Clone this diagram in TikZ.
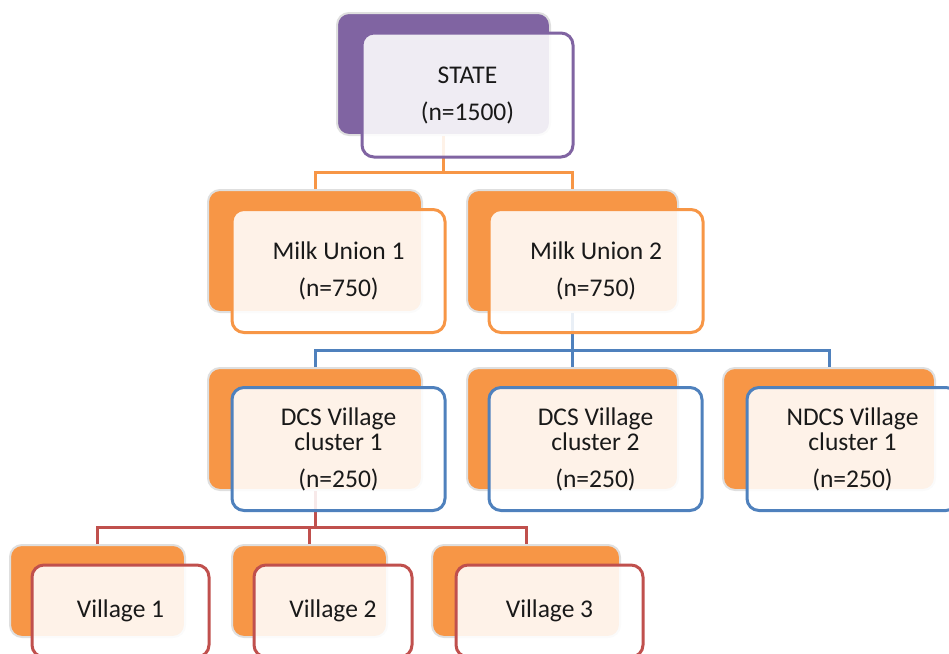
\documentclass[tikz,border=0pt]{standalone}
\usepackage{fontspec}
\setmainfont{Carlito}
\definecolor{purpleA}{HTML}{8064A2}
\definecolor{orangeA}{HTML}{F79646}
\definecolor{blueA}{HTML}{4F81BD}
\definecolor{redA}{HTML}{C0504D}
\newcommand{\lblfont}{\fontsize{25.5}{25.5}\selectfont}
\begin{document}
\begin{tikzpicture}[x=1pt,y=-1pt,
  backbox/.style={draw=gray!25, line width=2pt, rounded corners=12pt, fill=#1, inner sep=0pt, minimum height=122pt},
  frontbox/.style={draw=#1, line width=3pt, rounded corners=12pt, fill=white, fill opacity=0.88, text opacity=1, draw opacity=1, inner sep=0pt, minimum height=123pt, align=center, font=\lblfont, text=black!90},
  conn/.style={draw=#1, line width=3pt},
]
\useasboundingbox (0,0) rectangle (949,653);
\clip (0,0) rectangle (949,653);

% back boxes
\node[backbox=purpleA, minimum width=213pt] (stateB) at (443.5,74) {};
\node[backbox=orangeA, minimum width=214pt] (mu1B) at (315,251) {};
\node[backbox=orangeA, minimum width=211pt] (mu2B) at (572.5,251) {};
\node[backbox=orangeA, minimum width=214pt] (dcs1B) at (315,429) {};
\node[backbox=orangeA, minimum width=211pt] (dcs2B) at (572.5,429) {};
\node[backbox=orangeA, minimum width=212pt] (ndcsB) at (829,429) {};
\node[backbox=orangeA, minimum width=175pt, minimum height=92pt] (v1B) at (97.5,591) {};
\node[backbox=orangeA, minimum width=155pt, minimum height=92pt] (v2B) at (309.5,591) {};
\node[backbox=orangeA, minimum width=188pt, minimum height=92pt] (v3B) at (526,591) {};

% buses
\coordinate (busA) at (0,172);
\coordinate (busB) at (0,350);
\coordinate (busC) at (0,527);

% connectors
\draw[conn=orangeA] (stateB.south) -- (stateB.south |- busA);
\draw[conn=orangeA] (mu1B.north) |- (stateB.south |- busA) -| (mu2B.north);

\draw[conn=blueA] (mu2B.south) -- (mu2B.south |- busB);
\draw[conn=blueA] (dcs1B.north) |- (mu2B.south |- busB) -| (ndcsB.north);
\draw[conn=blueA] (dcs2B.north) -- (dcs2B.north |- busB);

\draw[conn=redA] (dcs1B.south) -- (dcs1B.south |- busC);
\draw[conn=redA] (v1B.north) |- (dcs1B.south |- busC) -| (v3B.north);
\draw[conn=redA] (v2B.north) -- (v2B.north |- busC);

% front boxes
\node[frontbox=purpleA, minimum width=211pt, minimum height=124pt] (stateF) at (467.5,95) {STATE\\[11.5pt](n=1500)};
\node[frontbox=orangeA, minimum width=213pt] (mu1F) at (338.5,271) {Milk Union 1\\[11.5pt](n=750)};
\node[frontbox=orangeA, minimum width=214pt] (mu2F) at (596,271) {Milk Union 2\\[11.5pt](n=750)};
\node[frontbox=blueA, minimum width=213pt] (dcs1F) at (338.5,449) {DCS Village\\cluster 1\\[11pt](n=250)};
\node[frontbox=blueA, minimum width=213pt] (dcs2F) at (595.5,449) {DCS Village\\cluster 2\\[11pt](n=250)};
\node[frontbox=blueA, minimum width=211pt] (ndcsF) at (852.5,449) {NDCS Village\\cluster 1\\[11pt](n=250)};
\node[frontbox=redA, minimum width=177pt, minimum height=92pt] (v1F) at (120.5,611) {Village 1};
\node[frontbox=redA, minimum width=158pt, minimum height=92pt] (v2F) at (333,611) {Village 2};
\node[frontbox=redA, minimum width=187pt, minimum height=92pt] (v3F) at (549.5,611) {Village 3};
\end{tikzpicture}
\end{document}
